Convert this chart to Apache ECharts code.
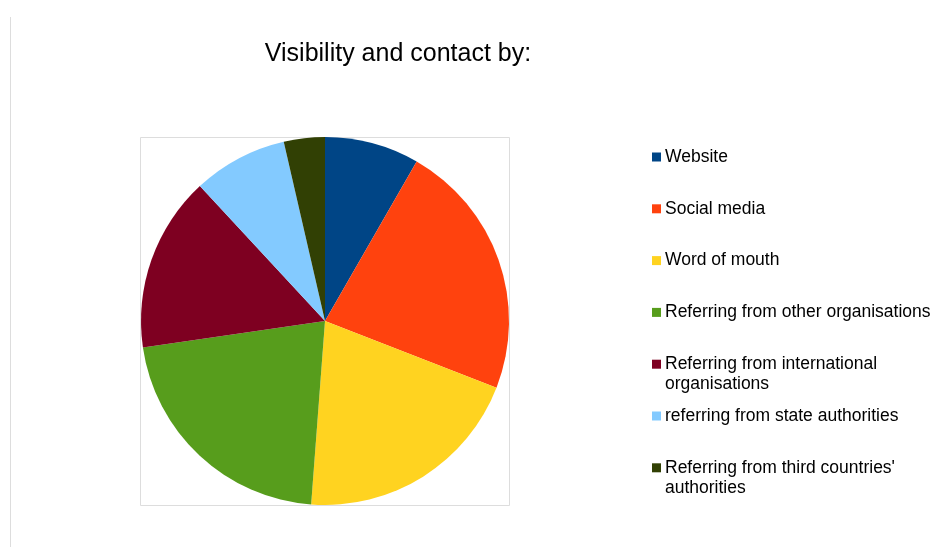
<!DOCTYPE html>
<html>
<head>
<meta charset="utf-8">
<script src="https://cdn.jsdelivr.net/npm/echarts@6/dist/echarts.min.js"></script>
<style>
  html, body { margin: 0; padding: 0; background: #ffffff; }
  #chart { width: 948px; height: 547px; }
</style>
</head>
<body>
<div id="chart"></div>
<script>
// Channels through which people found and contacted the service (share, %)
const categories = [
  'Website',
  'Social media',
  'Word of mouth',
  'Referring from other organisations',
  'Referring from international\norganisations',
  'referring from state authorities',
  "Referring from third countries'\nauthorities"
];
const shares = [8.3, 22.6, 20.3, 21.5, 15.4, 8.3, 3.6];
const colors = ['#004586', '#ff420e', '#ffd320', '#579d1c', '#7e0021', '#83caff', '#314004'];
const titleText = 'Visibility and contact by:';

const FONT = '"Liberation Sans", Arial, sans-serif';

const chart = echarts.init(document.getElementById('chart'), null, { renderer: 'canvas' });

// Legend entries: square swatch plus label, first line aligned with the swatch
const legendX = 652, legendTop = 157, legendStep = 51.8;
const legendItems = [];
categories.forEach((name, i) => {
  const cy = legendTop + i * legendStep;
  legendItems.push({
    type: 'rect',
    shape: { x: legendX, y: cy - 4.5, width: 9, height: 9 },
    style: { fill: colors[i] }
  });
  legendItems.push({
    type: 'text',
    x: legendX + 13,
    y: cy - 10,
    style: {
      text: name,
      font: '17.5px ' + FONT,
      fill: '#000000',
      lineHeight: 20,
      textVerticalAlign: 'top'
    }
  });
});

chart.setOption({
  backgroundColor: '#ffffff',
  animation: false,
  title: {
    text: titleText,
    left: 393,
    top: 37,
    textAlign: 'center',
    textStyle: { fontFamily: FONT, fontSize: 25, fontWeight: 'normal', color: '#000000' }
  },
  graphic: [
    // thin page rule on the left
    { type: 'line', shape: { x1: 10.5, y1: 17, x2: 10.5, y2: 547 }, style: { stroke: '#dddddd', lineWidth: 1 } },
    // plot area frame
    { type: 'rect', shape: { x: 140.5, y: 137.5, width: 369, height: 368 }, style: { fill: 'none', stroke: '#dddddd', lineWidth: 1 } }
  ].concat(legendItems),
  series: [{
    type: 'pie',
    center: [325, 321],
    radius: [0, 184],
    startAngle: 90,
    clockwise: true,
    label: { show: false },
    labelLine: { show: false },
    itemStyle: { borderWidth: 0 },
    emphasis: { disabled: true },
    data: categories.map((name, i) => ({
      name: name,
      value: shares[i],
      itemStyle: { color: colors[i] }
    }))
  }]
});
</script>
</body>
</html>
